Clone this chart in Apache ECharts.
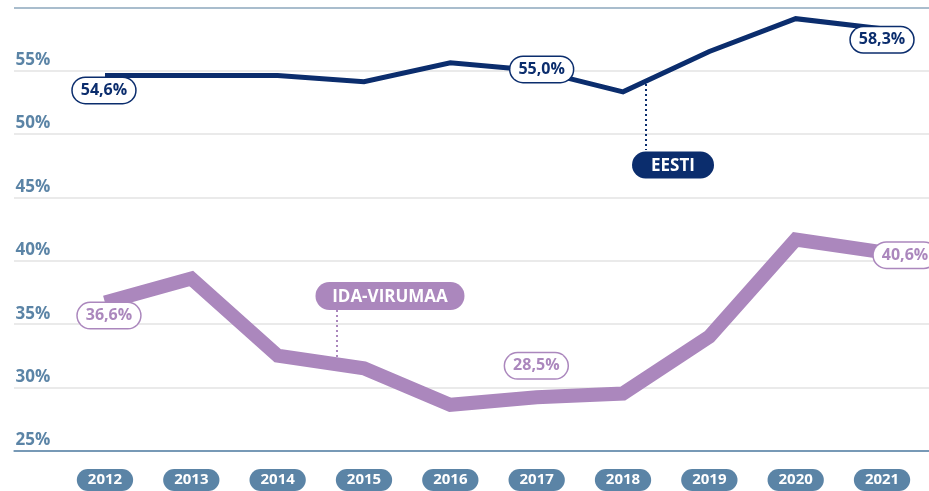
<!DOCTYPE html>
<html>
<head>
<meta charset="utf-8">
<script src="https://cdn.jsdelivr.net/npm/echarts@6/dist/echarts.min.js"></script>
<style>
  html, body { margin: 0; padding: 0; background: #fff; }
  #chart { width: 929px; height: 491px; }
</style>
</head>
<body>
<div id="chart"></div>
<script>
const years = ["2012", "2013", "2014", "2015", "2016", "2017", "2018", "2019", "2020", "2021"];
const eesti = [54.6, 54.6, 54.6, 54.1, 55.6, 55.0, 53.3, 56.5, 59.1, 58.3];
const idaVirumaa = [36.6, 38.5, 32.4, 31.4, 28.5, 29.1, 29.4, 33.9, 41.6, 40.6];
const yTicks = [25, 30, 35, 40, 45, 50, 55, 60];

const NAVY = "#0b2d6d";
const PURPLE = "#ab87bd";
const STEEL = "#5b84a6";
const FONT = "Open Sans";

const fmt = (v) => v.toFixed(1).replace(".", ",") + "%";

// which points carry a value bubble, and where the bubble sits
const eestiLabels = { 0: [-1, 15], 5: [5, -1], 9: [0, 11] };
const idaLabels = { 0: [4, 13], 4: [86, -39], 9: [23, 3] };

function withLabels(values, labels, color) {
  return values.map((v, i) => {
    if (!labels[i]) return v;
    return {
      value: v,
      label: {
        show: true,
        position: "inside",
        offset: labels[i],
        formatter: fmt(v),
        color: color,
        fontFamily: FONT,
        fontWeight: "bold",
        fontSize: 16,
        lineHeight: 18,
        backgroundColor: "#fff",
        borderColor: color,
        borderWidth: 1.5,
        borderRadius: 13,
        padding: [4, 8, 3, 8],
      },
    };
  });
}

const chart = echarts.init(document.getElementById("chart"));

const gridTop = 7.3, gridBottom = 40;

chart.setOption({
  animation: false,
  grid: [
    { left: 14, right: 0, top: gridTop, bottom: gridBottom },
    { left: 61.8, right: 3.8, top: gridTop, bottom: gridBottom },
  ],
  xAxis: [
    {
      gridIndex: 0,
      type: "category",
      data: years,
      axisLine: { show: true, lineStyle: { color: "#6f93b1", width: 1.5 } },
      axisTick: { show: false },
      axisLabel: { show: false },
    },
    {
      gridIndex: 1,
      type: "category",
      data: years,
      axisLine: { show: false },
      axisTick: { show: false },
      axisLabel: {
        interval: 0,
        margin: 20,
        color: "#fff",
        fontFamily: FONT,
        fontWeight: "bold",
        fontSize: 15,
        lineHeight: 16,
        backgroundColor: STEEL,
        borderRadius: 11,
        padding: [3, 11, 3, 11],
      },
    },
  ],
  yAxis: [
    {
      gridIndex: 0,
      type: "value",
      min: yTicks[0],
      max: yTicks[yTicks.length - 1],
      interval: 5,
      axisLine: { show: false },
      axisTick: { show: false },
      splitLine: {
        show: true,
        lineStyle: {
          color: ["#6f93b1", "#e3e3e3", "#e3e3e3", "#e3e3e3", "#e3e3e3", "#e3e3e3", "#e3e3e3", "#8ca7bc"],
          width: 1.5,
        },
      },
      axisLabel: {
        inside: true,
        margin: 1.5,
        align: "left",
        verticalAlign: "bottom",
        padding: [0, 0, 2, 0],
        color: STEEL,
        fontFamily: FONT,
        fontWeight: "bold",
        fontSize: 17,
        formatter: (v) => (v === 60 ? "" : v + "%"),
      },
    },
    {
      gridIndex: 1,
      type: "value",
      min: yTicks[0],
      max: yTicks[yTicks.length - 1],
      interval: 5,
      show: false,
    },
  ],
  series: [
    {
      name: "IDA-VIRUMAA",
      type: "line",
      xAxisIndex: 1,
      yAxisIndex: 1,
      data: withLabels(idaVirumaa, idaLabels, PURPLE),
      symbol: "circle",
      symbolSize: 0,
      showSymbol: true,
      lineStyle: { color: PURPLE, width: 14, join: "miter" },
      itemStyle: { color: PURPLE },
      z: 3,
    },
    {
      name: "EESTI",
      type: "line",
      xAxisIndex: 1,
      yAxisIndex: 1,
      data: withLabels(eesti, eestiLabels, NAVY),
      symbol: "circle",
      symbolSize: 0,
      showSymbol: true,
      lineStyle: { color: NAVY, width: 5, join: "miter" },
      itemStyle: { color: NAVY },
      z: 4,
    },
  ],
});

// series name callouts, hung off the lines with a dotted leader
function callout(text, color, cx, cy, w, h, lx, ly1, ly2) {
  return {
    type: "group",
    z: 10,
    children: [
      {
        type: "line",
        shape: { x1: lx, y1: ly1, x2: lx, y2: ly2 },
        style: { stroke: color, lineWidth: 2, lineDash: [2, 3] },
      },
      {
        type: "rect",
        shape: { x: cx - w / 2, y: cy - h / 2, width: w, height: h, r: h / 2 },
        style: { fill: color },
      },
      {
        type: "text",
        x: cx,
        y: cy + 1,
        style: {
          text: text,
          fill: "#fff",
          font: "bold 17px '" + FONT + "'",
          align: "center",
          verticalAlign: "middle",
        },
      },
    ],
  };
}

const p2018 = chart.convertToPixel({ xAxisIndex: 1, yAxisIndex: 1 }, [6, eesti[6]]);
const p2015 = chart.convertToPixel({ xAxisIndex: 1, yAxisIndex: 1 }, [3, idaVirumaa[3]]);

chart.setOption({
  graphic: [
    callout("EESTI", NAVY, p2018[0] + 50, 165, 82, 27, p2018[0] + 23, 84, 150),
    callout("IDA-VIRUMAA", PURPLE, p2015[0] + 26, 296, 149, 28, p2015[0] - 27, 310, 358),
  ],
});
</script>
</body>
</html>
